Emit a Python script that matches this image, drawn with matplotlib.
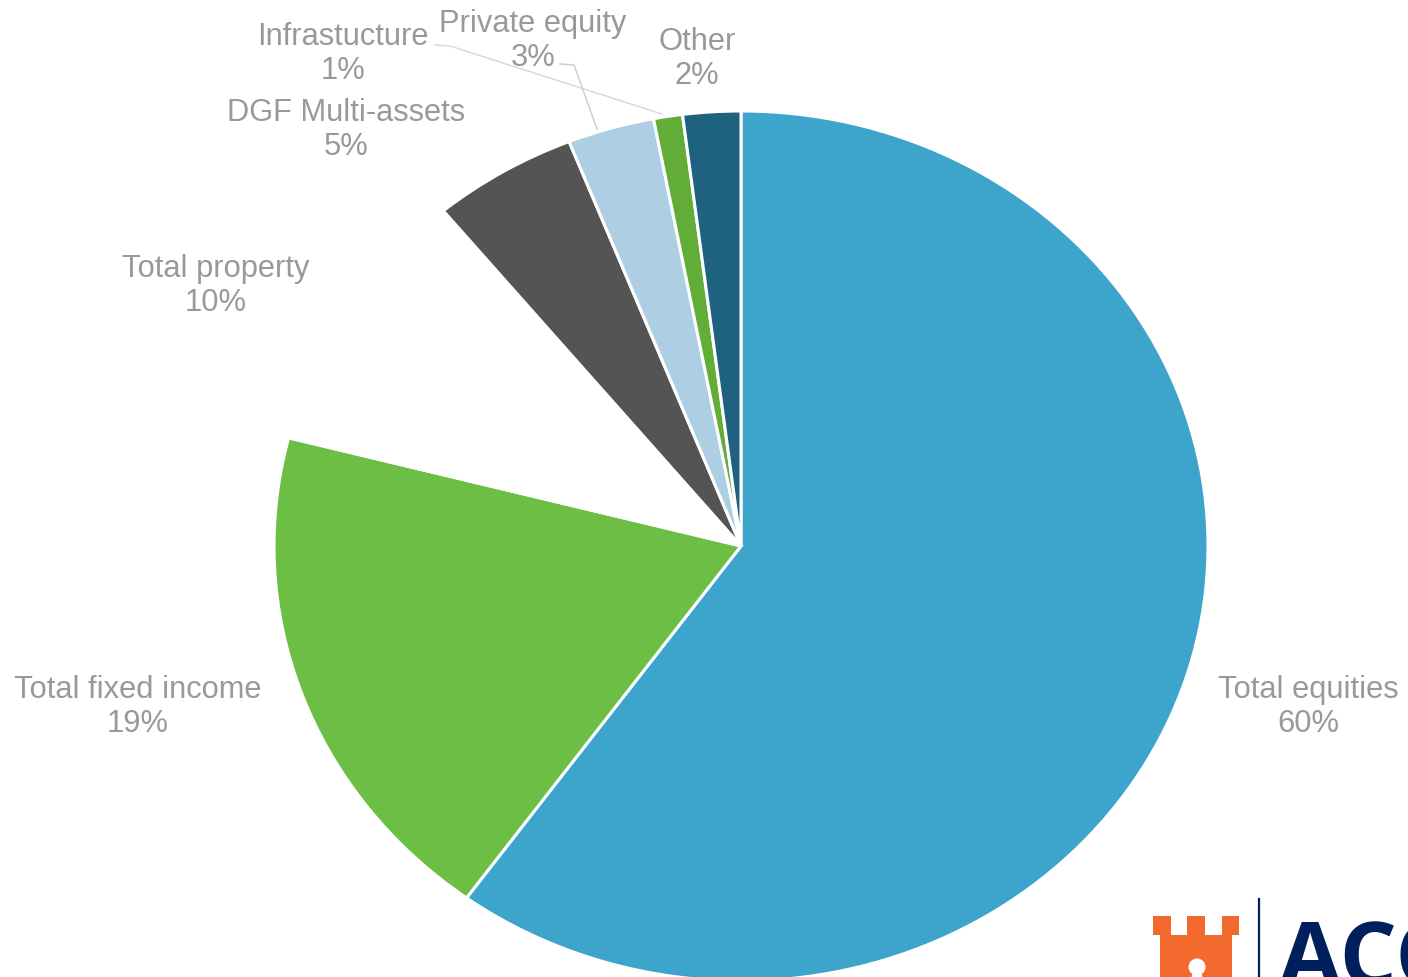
import matplotlib
matplotlib.use('Agg')
import matplotlib.pyplot as plt
from matplotlib.patches import Polygon, Circle

W, H = 1408, 978

categories = ['Total equities', 'Total fixed income', 'Total property', 'DGF Multi-assets',
              'Private equity', 'Infrastucture', 'Other']
values = [60, 19, 10, 5, 3, 1, 2]
colors = ['#3DA4CB', '#6DBE45', '#FFFFFF', '#545454', '#AECFE3', '#62AD37', '#1F6280']

# label centres in pixels
label_x = [1308, 138, 216, 346, 533, 343, 697]
label_y = [707, 707, 286, 130, 41, 54, 59]

plt.rcParams['font.family'] = ['Liberation Sans', 'DejaVu Sans']

fig = plt.figure(figsize=(W / 100, H / 100), dpi=100, facecolor='white')

# pie is slightly wider than tall
cx, cy, rx, ry = 741, 547, 467, 435
ax = fig.add_axes([(cx - rx) / W, 1 - (cy + ry) / H, 2 * rx / W, 2 * ry / H])
ax.pie(values, colors=colors, startangle=90, counterclock=False, radius=1,
       wedgeprops={'edgecolor': 'white', 'linewidth': 2.2})
ax.set_aspect('auto')
ax.set_xlim(-1, 1)
ax.set_ylim(-1, 1)

# overlay in pixel coordinates for labels, leaders and logo
ov = fig.add_axes([0, 0, 1, 1])
ov.set_xlim(0, W)
ov.set_ylim(H, 0)
ov.axis('off')

for name, val, x, y in zip(categories, values, label_x, label_y):
    ov.text(x, y, f'{name}\n{val}%', ha='center', va='center', fontsize=22.2,
            color='#999999', linespacing=1.14)

# leader lines
ov.plot([435, 450, 662], [46, 47, 115], color='#DADADA', lw=1.1)
ov.plot([560, 574, 597], [65, 66, 130], color='#D0D0D0', lw=1.1)

# logo
orange = '#F26A2E'
navy = '#00205B'
tower = [(1153, 917), (1171, 917), (1171, 936), (1187, 936), (1187, 917), (1205, 917),
         (1205, 936), (1222, 936), (1222, 917), (1239, 917), (1239, 936), (1232, 936),
         (1232, 980), (1160, 980), (1160, 936), (1153, 936)]
ov.add_patch(Polygon(tower, closed=True, facecolor=orange, edgecolor='none'))
ov.add_patch(Circle((1197, 968), 8.5, facecolor='white', edgecolor='none'))
ov.add_patch(Polygon([(1193, 972), (1201, 972), (1203, 980), (1191, 980)], closed=True,
                     facecolor='white', edgecolor='none'))
ov.plot([1259, 1259], [900, 980], color=navy, lw=1.6)
ov.text(1279, 986, 'ACC', ha='left', va='baseline', fontsize=65, fontweight='bold',
        family='Open Sans', color=navy)

fig.savefig('out.png', dpi=100)
